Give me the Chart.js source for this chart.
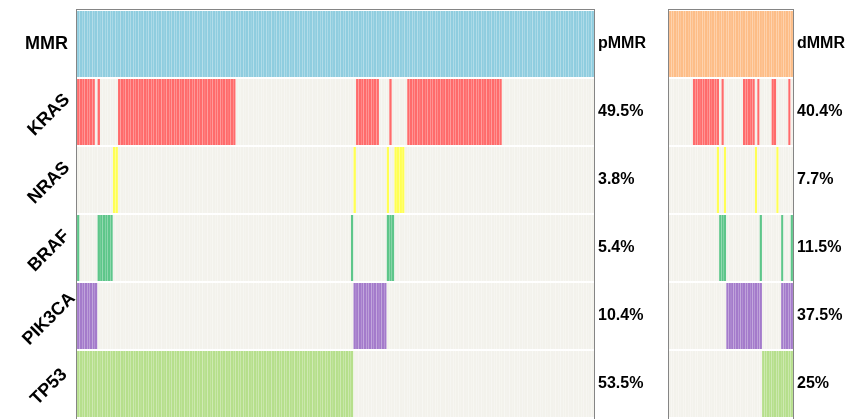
<!DOCTYPE html>
<html>
<head>
<meta charset="utf-8">
<script src="https://cdn.jsdelivr.net/npm/chart.js@4.4.1/dist/chart.umd.min.js"></script>
<style>
  body { margin: 0; background: #fff; }
  canvas { position: absolute; top: 0; }
  #pChart { left: 0; }
  #dChart { left: 660px; }
</style>
</head>
<body>
<canvas id="pChart" width="660" height="419"></canvas>
<canvas id="dChart" width="188" height="419"></canvas>
<script>
var genes = ["MMR", "KRAS", "NRAS", "BRAF", "PIK3CA", "TP53"];
var pLabels = ["pMMR", "49.5%", "3.8%", "5.4%", "10.4%", "53.5%"];
var dLabels = ["dMMR", "40.4%", "7.7%", "11.5%", "37.5%", "25%"];

var pSamples = 202;
var dSamples = 52;

// mutated samples as [first, last] runs of sample index
var pKRAS = [[0, 6], [8, 8], [16, 61], [109, 117], [122, 122], [129, 165]];
var pNRAS = [[14, 15], [108, 108], [121, 121], [124, 127]];
var pBRAF = [[0, 0], [8, 13], [107, 107], [121, 123]];
var pPIK3CA = [[0, 7], [108, 120]];
var pTP53 = [[0, 107]];

var dKRAS = [[10, 20], [22, 22], [31, 35], [37, 37], [43, 44], [50, 50]];
var dNRAS = [[20, 20], [23, 23], [36, 36], [45, 45]];
var dBRAF = [[21, 23], [38, 38], [47, 47], [51, 51]];
var dPIK3CA = [[24, 38], [47, 51]];
var dTP53 = [[39, 51]];

var geneColors = ["#8fcddf", "#ff6b6b", "#ffff55", "#5ec68a", "#a47bcb", "#b6df8c"];
var dmmrColor = "#fdbd87";
var emptyColor = "#f3f2ec";

function expand(runs, n) {
  var flags = [];
  for (var i = 0; i < n; i++) flags.push(0);
  runs.forEach(function (r) {
    for (var j = r[0]; j <= r[1]; j++) flags[j] = 1;
  });
  return flags;
}

var frame = {
  id: "frame",
  afterDatasetsDraw: function (chart) {
    var a = chart.chartArea;
    var c = chart.ctx;
    c.save();
    c.strokeStyle = "#858585";
    c.lineWidth = 1;
    c.strokeRect(Math.round(a.left) - 0.5, Math.round(a.top) - 0.5,
      Math.round(a.right - a.left) + 1, Math.round(a.bottom - a.top) + 2);
    c.restore();
  }
};

var geneNames = {
  id: "geneNames",
  afterDraw: function (chart) {
    var y = chart.scales.y;
    var c = chart.ctx;
    c.save();
    c.fillStyle = "#000";
    c.font = "bold 18px 'Liberation Sans', Arial, sans-serif";
    c.textBaseline = "middle";
    genes.forEach(function (g, i) {
      var py = y.getPixelForValue(i + 0.5);
      if (i == 0) {
        c.textAlign = "right";
        c.fillText(g, 68, py);
      } else {
        c.save();
        c.translate(49, py + 3);
        c.rotate(-Math.PI / 4);
        c.textAlign = "center";
        c.fillText(g, 0, 0);
        c.restore();
      }
    });
    c.restore();
  }
};

function makePanel(id, n, rows, colors, rightLabels, padLeft, axisWidth, plugins) {
  var cats = [];
  for (var i = 0; i < n; i++) cats.push(i + 1);
  var datasets = rows.map(function (flags, r) {
    return {
      label: genes[r],
      data: flags.map(function () { return [r + 0.015, r + 0.985]; }),
      backgroundColor: flags.map(function (f) { return f ? colors[r] : emptyColor; }),
      grouped: false,
      barPercentage: 0.93,
      categoryPercentage: 1,
      borderWidth: 0
    };
  });
  return new Chart(document.getElementById(id), {
    type: "bar",
    data: { labels: cats, datasets: datasets },
    plugins: plugins,
    options: {
      responsive: false,
      animation: false,
      devicePixelRatio: 1,
      layout: { padding: { left: padLeft, top: 10, bottom: 1, right: 0 } },
      plugins: { legend: { display: false }, tooltip: { enabled: false } },
      scales: {
        x: { display: false },
        y: { display: false, min: 0, max: 6, reverse: true },
        y2: {
          position: "right",
          type: "linear",
          min: 0,
          max: 6,
          reverse: true,
          grid: { display: false, drawTicks: false },
          border: { display: false },
          afterBuildTicks: function (axis) {
            axis.ticks = rightLabels.map(function (_, i) { return { value: i + 0.5 }; });
          },
          afterFit: function (axis) {
            axis.width = axisWidth;
            axis.paddingTop = 0;
            axis.paddingBottom = 0;
          },
          ticks: {
            autoSkip: false,
            padding: 4,
            color: "#000",
            font: { family: "'Liberation Sans', Arial, sans-serif", size: 16, weight: "bold" },
            callback: function (value) { return rightLabels[Math.floor(value)]; }
          }
        }
      }
    }
  });
}

var pRows = [
  expand([[0, pSamples - 1]], pSamples),
  expand(pKRAS, pSamples),
  expand(pNRAS, pSamples),
  expand(pBRAF, pSamples),
  expand(pPIK3CA, pSamples),
  expand(pTP53, pSamples)
];
var dRows = [
  expand([[0, dSamples - 1]], dSamples),
  expand(dKRAS, dSamples),
  expand(dNRAS, dSamples),
  expand(dBRAF, dSamples),
  expand(dPIK3CA, dSamples),
  expand(dTP53, dSamples)
];

makePanel("pChart", pSamples, pRows, geneColors, pLabels, 77, 66, [frame, geneNames]);
makePanel("dChart", dSamples, dRows, [dmmrColor].concat(geneColors.slice(1)), dLabels, 9, 55, [frame]);
</script>
</body>
</html>
